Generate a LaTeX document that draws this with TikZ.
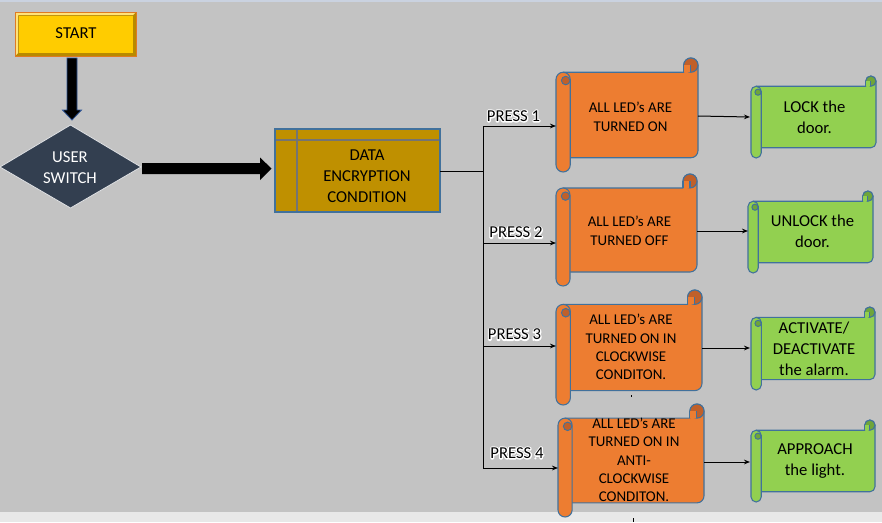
\documentclass[tikz,border=0pt]{standalone}
\usepackage{fontspec}
\setmainfont{Carlito}
\usetikzlibrary{arrows.meta}
\definecolor{bg}{HTML}{C3C3C3}
\definecolor{bgstrip}{HTML}{E8E8E8}
\definecolor{topline}{HTML}{CAD2E0}
\definecolor{startfill}{HTML}{FFCC00}
\definecolor{startdark}{HTML}{B88A00}
\definecolor{startlight}{HTML}{FFE27A}
\definecolor{startedge}{HTML}{E07A22}
\definecolor{slate}{HTML}{333F50}
\definecolor{gold}{HTML}{BF9000}
\definecolor{innerline}{HTML}{747474}
\definecolor{orng}{HTML}{ED7D31}
\definecolor{orngdark}{HTML}{C0602A}
\definecolor{grn}{HTML}{92D050}
\definecolor{grndark}{HTML}{6FA53A}
\definecolor{outl}{HTML}{41719C}
\definecolor{arrowoutl}{HTML}{2F5597}
\newcommand\halotext[1]{\leavevmode\rlap{\special{pdf:literal 1 Tr 1.8 w 1 1 1 RG 1 J 1 j}#1\special{pdf:literal 0 Tr 0 0 0 RG 1 w}}#1}
\newcommand\myscroll[6]{%
  \pgfmathsetmacro\rr{(#4-#2)/8}%
  \pgfmathsetmacro\hr{\rr/2}%
  \filldraw[fill=#5, draw=outl, line width=0.8pt, line join=round]
    ({#1+\hr},{#2+\rr}) -- ({#3-\rr},{#2+\rr}) -- ({#3-\rr},{#2+\hr})
    arc[start angle=180, end angle=360, radius=\hr]
    -- ({#3},{#4-\rr-\hr}) arc[start angle=0, end angle=90, radius=\hr]
    -- ({#1+\hr},{#4-\rr}) -- cycle;
  \filldraw[fill=#6, draw=outl, line width=0.8pt] ({#3-\hr},{#2+\hr}) circle[radius=\hr];
  \fill[#5] ({#3-\rr+0.5},{#2+\hr}) rectangle ({#3-\hr},{#2+\rr-0.5});
  \draw[outl, line width=0.8pt] ({#3-\rr},{#2+\hr}) -- ({#3-\rr},{#2+\rr})
    ({#3-\hr},{#2+\hr}) -- ({#3-\hr},{#2+\rr});
  \filldraw[fill=#5, draw=outl, line width=0.8pt]
    ({#1},{#2+\rr+\hr}) arc[start angle=180, end angle=360, radius=\hr]
    -- ({#1+\rr},{#4-\hr}) arc[start angle=0, end angle=180, radius=\hr] -- cycle;
  \filldraw[fill=#6, draw=outl, line width=0.7pt] ({#1+0.68*\rr},{#2+1.58*\rr}) circle[radius={0.3*\rr}];
}
\begin{document}
\begin{tikzpicture}[x=0.75pt, y=-0.75pt,
  conn/.style={draw=black, line width=0.75pt, -{Stealth[length=4.5pt, width=3.5pt]}},
  bus/.style={draw=black, line width=0.75pt},
  otext/.style={align=center, inner sep=0pt, font=\fontsize{11.2}{14}\selectfont},
  otextb/.style={align=center, inner sep=0pt, font=\fontsize{11.2}{13.7}\selectfont},
  gtext/.style={align=center, inner sep=0pt, font=\fontsize{12.5}{15.75}\selectfont},
  plabel/.style={inner sep=0pt, font=\fontsize{12.5}{15}\selectfont}]
\useasboundingbox (0,0) rectangle (882,522);
% background
\fill[bg] (0,0) rectangle (882,522);
\fill[bgstrip] (0,512) rectangle (882,522);
\fill[topline] (0,0) rectangle (882,1.8);

% START box
\fill[startdark] (15,12) rectangle (136,56);
\fill[startlight] (15,12) -- (136,12) -- (133,15) -- (18,15) -- (18,53) -- (15,56) -- cycle;
\fill[startfill] (18.5,15.5) rectangle (132.5,52.5);
\draw[startedge, line width=0.7pt] (15,12) rectangle (136,56);
\node[font=\fontsize{12.5}{15}\selectfont, inner sep=0pt] (start) at (76,33.5) {START};

% thick down arrow
\filldraw[fill=black, draw=arrowoutl, line width=0.6pt]
  (67,58) -- (77,58) -- (77,110) -- (81.5,110) -- (72,120) -- (62.5,110) -- (67,110) -- cycle;

% diamond
\filldraw[fill=slate, draw=white!85!slate, line width=0.6pt]
  (0,167) -- (70.5,125) -- (141,167) -- (70.5,208) -- cycle;
\node[font=\fontsize{12.5}{15.5}\selectfont, text=white, align=center, inner sep=0pt] (switch) at (70,167.5) {USER\\SWITCH};

% thick right arrow
\fill[black] (142,163) -- (260,163) -- (260,157.5) -- (271.5,168.5) -- (260,180) -- (260,174) -- (142,174) -- cycle;

% DATA box
\fill[gold] (275,129) rectangle (440,212);
\draw[innerline, line width=1.5pt] (275.5,139.5) -- (439.5,139.5) (296.5,129.5) -- (296.5,211.5);
\draw[outl, line width=0.8pt] (275,129) rectangle (440,212);
\node[font=\fontsize{12.5}{15.75}\selectfont, align=center, inner sep=0pt] (data) at (367,176) {DATA\\ENCRYPTION\\CONDITION};

% scrolls
\myscroll{556}{58}{698}{172}{orng}{orngdark}
\myscroll{556}{174}{697}{286}{orng}{orngdark}
\myscroll{556}{290}{702}{405}{orng}{orngdark}
\myscroll{558}{404}{704}{517}{orng}{orngdark}
\myscroll{751}{76}{876}{158}{grn}{grndark}
\myscroll{748}{191}{873}{273}{grn}{grndark}
\myscroll{751}{307}{875}{390}{grn}{grndark}
\myscroll{751}{420}{875}{502}{grn}{grndark}

% scroll texts
\node[otext] (o1) at (630.5,116.5) {ALL LED’s ARE\\TURNED ON};
\node[otext] (o2) at (629.5,230.5) {ALL LED’s ARE\\TURNED OFF};
\node[otextb] (o3) at (631,347) {ALL LED’s ARE\\TURNED ON IN\\CLOCKWISE\\CONDITON.};
\node[otextb] (o4) at (634,460) {ALL LED’s ARE\\TURNED ON IN\\ANTI-\\CLOCKWISE\\CONDITON.};
\node[gtext] (g1) at (814.5,117) {LOCK the\\door.};
\node[gtext] (g2) at (812.5,231) {UNLOCK the\\door.};
\node[gtext] (g3) at (814,348.5) {ACTIVATE/\\DEACTIVATE\\the alarm.};
\node[gtext] (g4) at (815,461) {APPROACH\\the light.};

% connector coordinates
\coordinate (dataE) at (440,171.5);
\coordinate (busM) at (483,171.5);
\coordinate (busA) at (483,126);
\coordinate (busB) at (483,243);
\coordinate (busC) at (483,346);
\coordinate (busD) at (483,468);
\coordinate (s1w) at (556,126);
\coordinate (s2w) at (556,243);
\coordinate (s3w) at (556,346);
\coordinate (s4w) at (558,468);
\coordinate (s1e) at (698,116);
\coordinate (s2e) at (697,231);
\coordinate (s3e) at (702,348);
\coordinate (s4e) at (704,462);
\coordinate (g1w) at (750,117);
\coordinate (g2w) at (748,231);
\coordinate (g3w) at (750,348);
\coordinate (g4w) at (750,462);

\draw[bus] (dataE) -- (busM);
\draw[bus] (busA) -- (busD);
\draw[conn] (busA) -- (s1w);
\draw[conn] (busB) -- (s2w);
\draw[conn] (busC) -- (s3w);
\draw[conn] (busD) -- (s4w);
\draw[conn] (s1e) -- (g1w);
\draw[conn] (s2e) -- (g2w);
\draw[conn] (s3e) -- (g3w);
\draw[conn] (s4e) -- (g4w);

% PRESS labels
\node[plabel] (p1) at (513.5,116) {\halotext{PRESS 1}};
\node[plabel] (p2) at (516,232.5) {\halotext{PRESS 2}};
\node[plabel] (p3) at (514.5,334.5) {\halotext{PRESS 3}};
\node[plabel] (p4) at (517,453) {\halotext{PRESS 4}};

% small marks
\fill[black] (630.5,395) rectangle (632,396.5);
\fill[black] (632.5,517.5) rectangle (633.5,522);
\end{tikzpicture}
\end{document}
